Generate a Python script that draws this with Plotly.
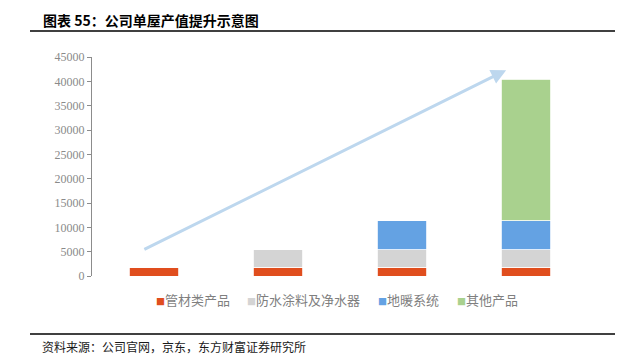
import plotly.graph_objects as go

categories = ["阶段1", "阶段2", "阶段3", "阶段4"]
series_names = ["管材类产品", "防水涂料及净水器", "地暖系统", "其他产品"]
pipe = [1800, 1800, 1800, 1800]
waterproof = [0, 3600, 3600, 3600]
heating = [0, 0, 6000, 6000]
others = [0, 0, 0, 29000]
colors = ["#E04E1E", "#D4D4D4", "#64A2E3", "#A9D18E"]
y_ticks = [0, 5000, 10000, 15000, 20000, 25000, 30000, 35000, 40000, 45000]

W, H = 628, 360
ML, MR, MT, MB = 92, 40, 57, 84
pw = W - ML - MR
ph = H - MT - MB


def px2paper(px, py):
    return (px - ML) / pw, 1 - (py - MT) / ph


fig = go.Figure()
for name, vals, c in zip(series_names, [pipe, waterproof, heating, others], colors):
    fig.add_trace(go.Bar(
        x=categories, y=vals, name=name, showlegend=False,
        marker=dict(color=c, line=dict(color="white", width=0.8)),
        hoverinfo="skip"))

fig.update_layout(
    barmode="stack",
    bargap=0.6,
    width=W, height=H,
    paper_bgcolor="white", plot_bgcolor="white",
    margin=dict(l=ML, r=MR, t=MT, b=MB),
    font=dict(family="Noto Sans CJK SC", color="#595959"),
    showlegend=False,
    xaxis=dict(showticklabels=False, showline=False, ticks="", showgrid=False,
               range=[-0.5, 3.5]),
    yaxis=dict(range=[0, 45000], tickvals=y_ticks, tickformat="d", showgrid=False,
               showline=True, linecolor="#8C8C8C", linewidth=1, ticks="outside",
               ticklen=4, tickcolor="#8C8C8C", zeroline=False,
               tickfont=dict(family="Liberation Serif", size=12, color="#8A8A8A")),
)

# trend arrow
fig.add_annotation(x=2.84, y=42300, ax=-0.09, ay=5300, xref="x", yref="y",
                   axref="x", ayref="y", showarrow=True, arrowhead=2, arrowsize=1,
                   arrowwidth=3, arrowcolor="#BDD7EE", text="")

# manual legend (series names + colours)
legend_x = [154, 245, 376, 455]
for name, c, lx in zip(series_names, colors, legend_x):
    x, y = px2paper(lx, 299)
    fig.add_annotation(x=x, y=y, xref="paper", yref="paper",
                       text=f"<span style='color:{c};font-size:9px'>■</span>{name}",
                       showarrow=False, xanchor="left", yanchor="middle",
                       font=dict(size=13, color="#7F7F7F", family="Noto Sans CJK SC"))

# title and source
x, y = px2paper(41, 20)
fig.add_annotation(x=x, y=y, xref="paper", yref="paper", text="<b>图表 55：公司单屋产值提升示意图</b>",
                   showarrow=False, xanchor="left", yanchor="middle",
                   font=dict(size=14, color="#000000", family="Noto Sans CJK SC"))
x, y = px2paper(40, 346)
fig.add_annotation(x=x, y=y, xref="paper", yref="paper", text="资料来源：公司官网，京东，东方财富证券研究所",
                   showarrow=False, xanchor="left", yanchor="middle",
                   font=dict(size=12, color="#1A1A1A", family="Noto Sans CJK SC"))

x0, y0 = px2paper(30, 31)
x1, _ = px2paper(615, 31)
fig.add_shape(type="line", xref="paper", yref="paper", x0=x0, x1=x1, y0=y0, y1=y0,
              line=dict(color="#000000", width=1.3))
x0, y0 = px2paper(30, 334)
x1, _ = px2paper(615, 334)
fig.add_shape(type="line", xref="paper", yref="paper", x0=x0, x1=x1, y0=y0, y1=y0,
              line=dict(color="#000000", width=1.3))

fig.write_html("out.html", config={"displayModeBar": False, "staticPlot": True})

# remove default page margin so the figure sits at the window's top-left corner
with open("out.html", "r", encoding="utf-8") as f:
    html = f.read()
html = html.replace("<head>", "<head><style>html,body{margin:0;padding:0;overflow:hidden;}</style>", 1)
with open("out.html", "w", encoding="utf-8") as f:
    f.write(html)
